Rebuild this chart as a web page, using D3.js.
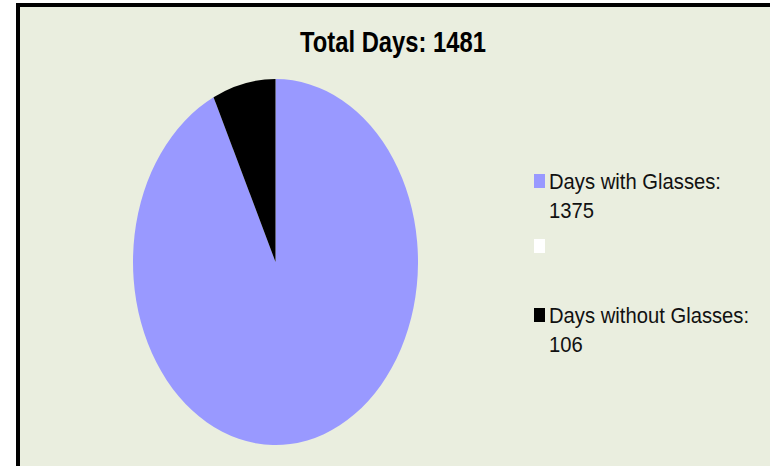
<!DOCTYPE html>
<html lang="en">
<head>
    <meta charset="UTF-8">
    <title>Total Days</title>
    <style>
        body { margin: 0; background: #fff; }
        text { font-family: "Liberation Sans", Arial, sans-serif; }
    </style>
    <script src="https://cdn.jsdelivr.net/npm/d3@7"></script>
</head>
<body>
<svg id="main" width="770" height="466"></svg>
<script>

    var categories = ["Days with Glasses", "", "Days without Glasses"];
    var values = [1375, 0, 106];
    var colours = ["#9999ff", "#ffffff", "#000000"];
    var title = "Total Days: 1481";

    var svg = d3.select("#main");

    // frame
    svg.append("rect")
            .attr("x", 18).attr("y", 5)
            .attr("width", 760).attr("height", 480)
            .attr("fill", "#eaeedf")
            .attr("stroke", "#000")
            .attr("stroke-width", 4);

    svg.append("text")
            .attr("transform", "translate(393,52) scale(0.82,1)")
            .attr("text-anchor", "middle")
            .style("font-size", "29px")
            .style("font-weight", "bold")
            .text(title);

    // pie is a circle squashed into an ellipse
    var r = 100, rx = 142.5, ry = 183;
    var pie = d3.pie().sort(null).value(function(d) { return d; });
    var arc = d3.arc().innerRadius(0).outerRadius(r);

    var g = svg.append("g")
            .attr("transform", "translate(275.5,262) scale(" + (rx / r) + "," + (ry / r) + ")");

    g.selectAll("path")
            .data(pie(values))
            .enter().append("path")
            .attr("d", arc)
            .attr("fill", function(d, i) { return colours[i]; });

    // legend
    var legendY = [189, 254, 323];
    var legend = svg.selectAll(".legend")
            .data(categories)
            .enter().append("g")
            .attr("class", "legend")
            .attr("transform", function(d, i) { return "translate(534," + legendY[i] + ")"; });

    legend.append("rect")
            .attr("x", 0).attr("y", -15)
            .attr("width", 11).attr("height", 14)
            .attr("fill", function(d, i) { return colours[i]; });

    legend.filter(function(d) { return d !== ""; })
            .append("text")
            .attr("transform", "translate(15,0) scale(0.92,1)")
            .style("font-size", "22px")
            .attr("fill", "#111")
            .each(function(d) {
                var i = categories.indexOf(d);
                var t = d3.select(this);
                t.append("tspan").attr("x", 0).attr("y", 0).text(d + ":");
                t.append("tspan").attr("x", 0).attr("y", 29).text(values[i]);
            });

</script>
</body>
</html>
